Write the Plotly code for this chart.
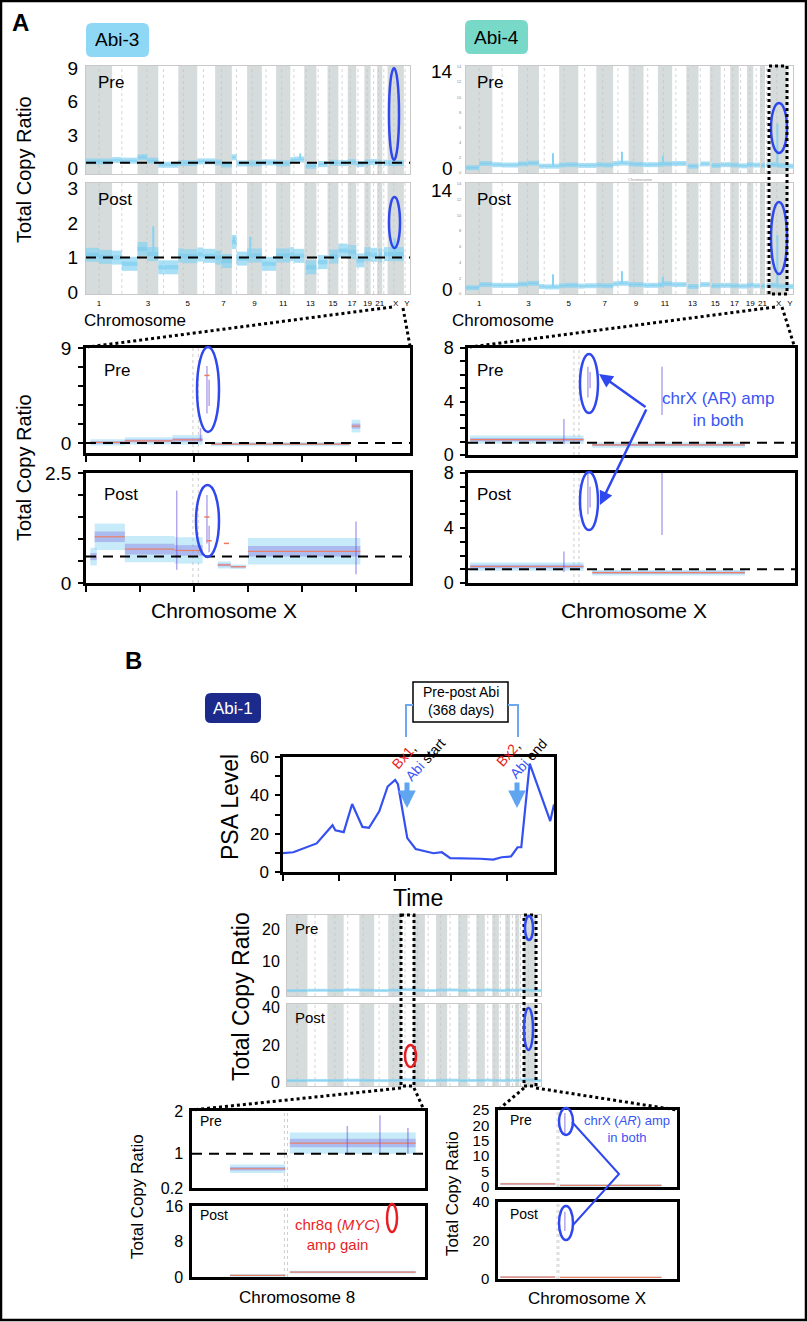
import plotly.graph_objects as go

W, H = 807, 1322
FONT = "Liberation Sans"

# ---------------- genome layout (hg19, Mb) ----------------
CHROMS = [str(i) for i in range(1, 23)] + ["X", "Y"]
CHROM_LEN = [249, 243, 198, 191, 181, 171, 159, 146, 141, 136, 135, 134,
             115, 107, 103, 90, 81, 78, 59, 63, 48, 51, 155, 59]
CENTROMERE = [125, 93, 91, 50, 48, 60, 60, 45, 49, 40, 53, 35,
              17, 17, 19, 36, 24, 17, 26, 28, 13, 15, 60, 12]
GENOME_TICK_CHROMS = ["1", "3", "5", "7", "9", "11", "13", "15", "17", "19", "21", "X", "Y"]

# ---------------- Abi-3 genome-wide copy ratio (p arm / q arm) ----------------
ABI3_PRE_P = [0.63, 0.75, 1.0, 0.33, 0.48, 0.63, 0.54, 1.0, 0.45, 0.54, 0.45, 0.75,
              None, None, None, 0.48, 0.57, 0.39, 0.54, 0.57, None, None, 0.48, None]
ABI3_PRE_Q = [0.63, 0.7, 0.7, 0.33, 0.48, 0.63, 0.35, 0.45, 0.45, 0.54, 0.45, 0.8,
              0.24, 0.39, 0.51, 0.48, 0.57, 0.39, 0.54, 0.57, 0.51, 0.51, 0.48, None]
ABI3_PRE_SPIKE_CHR = ["12", "3"]
ABI3_PRE_SPIKE_POS = [95, 60]
ABI3_PRE_SPIKE_TOP = [1.35, 1.2]

ABI3_POST_P = [1.08, 1.0, 1.25, 0.72, 1.06, 1.09, 1.0, 1.45, 1.06, 0.82, 1.06, 1.1,
               None, None, None, 1.2, 1.16, 0.92, 1.1, 1.08, None, None, 1.1, None]
ABI3_POST_Q = [1.02, 0.82, 1.1, 0.72, 1.04, 1.05, 0.9, 0.97, 1.06, 0.82, 1.06, 1.05,
               0.72, 0.87, 1.03, 1.2, 1.16, 0.92, 1.1, 1.08, 1.06, 1.1, 1.1, None]
ABI3_POST_SPIKE_CHR = ["3", "9", "8", "X"]
ABI3_POST_SPIKE_POS = [150, 30, 20, 67]
ABI3_POST_SPIKE_TOP = [1.9, 1.6, 1.6, 1.55]

# ---------------- Abi-4 genome-wide copy ratio ----------------
ABI4_PRE_P = [0.7, 1.1, 1.2, 0.9, 1.05, 1.0, 1.1, 1.25, 1.2, 1.1, 1.15, 1.25,
              None, None, None, 1.1, 1.05, 0.95, 1.1, 1.05, None, None, 1.1, 0.9]
ABI4_PRE_Q = [1.25, 1.05, 1.3, 0.9, 1.1, 1.0, 1.05, 1.3, 1.15, 1.1, 1.2, 1.25,
              0.9, 1.2, 1.0, 1.1, 1.05, 0.95, 1.1, 1.05, 1.0, 1.1, 1.0, 0.9]
ABI4_POST_P = [0.8, 1.1, 1.25, 0.95, 1.05, 1.0, 1.1, 1.3, 1.2, 1.1, 1.15, 1.2,
               None, None, None, 1.1, 1.05, 1.0, 1.1, 1.05, None, None, 1.1, 0.95]
ABI4_POST_Q = [1.2, 1.1, 1.35, 0.9, 1.1, 1.05, 1.05, 1.35, 1.2, 1.1, 1.3, 1.2,
               0.95, 1.2, 1.05, 1.1, 1.05, 1.0, 1.15, 1.05, 1.0, 1.1, 1.0, 0.95]
ABI4_SPIKE_CHR = ["4", "8", "11", "X"]
ABI4_SPIKE_POS = [133, 83, 48, 66]
ABI4_PRE_SPIKE_TOP = [2.6, 2.8, 2.3, 6.5]
ABI4_POST_SPIKE_TOP = [2.5, 2.9, 2.2, 7.5]

# ---------------- Abi-1 genome-wide copy ratio (per chromosome) ----------------
ABI1_PRE = [0.7, 0.8, 0.75, 0.9, 0.8, 0.7, 0.85, 1.0, 0.8, 0.7, 0.85, 0.9,
            0.7, 0.8, 0.8, 0.9, 0.8, 0.7, 0.9, 0.8, 0.8, 0.9, 0.8, 0.7]
ABI1_POST = [0.9, 1.0, 0.95, 1.1, 1.0, 0.9, 1.0, 1.3, 1.0, 0.9, 1.05, 1.1,
             0.9, 1.0, 1.0, 1.1, 1.0, 0.9, 1.1, 1.0, 1.0, 1.1, 1.2, 0.9]

# ---------------- chrX zoom, Abi-3 (position units 0-150) ----------------
A3X_PRE_START = [2, 18, 40, 58, 123]
A3X_PRE_END = [18, 40, 54, 122, 127]
A3X_PRE_MEAN = [0.05, 0.2, 0.3, -0.1, 1.6]
A3X_PRE_SPREAD = [0.3, 0.35, 0.45, 0.2, 0.6]
A3X_PRE_SPIKE_X = [56, 57, 53]
A3X_PRE_SPIKE_LO = [2.8, 3.5, 0.2]
A3X_PRE_SPIKE_HI = [7.3, 6.0, 1.4]
A3X_PRE_CALL_X = [56]
A3X_PRE_CALL_Y = [6.4]

A3X_POST_START = [2, 4, 18, 41, 61, 67, 75]
A3X_POST_END = [5, 18, 41, 54, 67, 74, 127]
A3X_POST_MEAN = [0.6, 1.05, 0.77, 0.74, 0.41, 0.37, 0.72]
A3X_POST_SPREAD = [0.2, 0.3, 0.3, 0.3, 0.08, 0.05, 0.3]
A3X_POST_SPIKE_X = [42, 56, 57, 125]
A3X_POST_SPIKE_LO = [0.3, 0.9, 0.7, 0.2]
A3X_POST_SPIKE_HI = [2.1, 2.0, 1.3, 1.4]
A3X_POST_CALL_X = [56, 57, 65]
A3X_POST_CALL_Y = [1.5, 0.96, 0.9]

# ---------------- chrX zoom, Abi-4 ----------------
A4X_START = [1, 57]
A4X_END = [53, 127]
A4X_PRE_MEAN = [1.15, 0.75]
A4X_POST_MEAN = [1.2, 0.75]
A4X_SPREAD = [0.3, 0.2]
A4X_SPIKE_X = [44, 55, 56, 89]
A4X_PRE_SPIKE_LO = [0.8, 4.3, 5.0, 3.0]
A4X_PRE_SPIKE_HI = [2.7, 6.6, 6.2, 6.6]
A4X_POST_SPIKE_LO = [0.8, 5.0, 5.5, 3.5]
A4X_POST_SPIKE_HI = [2.3, 8.0, 7.0, 8.0]

# ---------------- Abi-1 chr8 and chrX zoom ----------------
A1_8_START = [24.5, 63]
A1_8_END = [60, 144]
A1_8_PRE_MEAN = [0.65, 1.25]
A1_8_PRE_SPREAD = [0.1, 0.25]
A1_8_PRE_SPIKE_X = [121, 139, 100]
A1_8_PRE_SPIKE_LO = [1.0, 1.0, 1.0]
A1_8_PRE_SPIKE_HI = [1.9, 1.6, 1.65]
A1_8_POST_MEAN = [0.35, 1.1]
A1_8_POST_SPREAD = [0.3, 0.3]

A1_X_START = [2, 52]
A1_X_END = [48, 137]
A1_X_PRE_MEAN = [1.0, 0.5]
A1_X_POST_MEAN = [1.0, 0.8]
A1_X_SPREAD = [0.4, 0.4]
A1_X_SPIKE_X = [56]
A1_X_PRE_SPIKE_LO = [17]
A1_X_PRE_SPIKE_HI = [24]
A1_X_POST_SPIKE_LO = [25]
A1_X_POST_SPIKE_HI = [35]

# ---------------- PSA time course ----------------
PSA_T = [0, 11, 36, 53, 56, 65, 74, 85, 92, 103, 112, 120, 123, 133, 142,
         161, 170, 179, 211, 225, 234, 244, 251, 255, 264, 286, 290]
PSA_LEVEL = [9.8, 10.3, 14.9, 24.4, 21.8, 20.8, 35.5, 23.5, 23.0, 31.7, 44.6, 48.0,
             45.8, 17.7, 12.0, 9.8, 10.3, 7.2, 6.9, 6.5, 7.7, 8.1, 12.9, 12.9,
             56.6, 26.6, 35.2]

# colours
LBLUE = "#86d3f3"
LBLUE_CORE = "#6cc6ee"
BAND = "#d6dbdb"
PURPLE = "#6b4fdc"
ORANGE = "#f27a5a"
EBLUE = "#2f47ee"
TBLUE = "#3a55f5"
RED = "#e81e25"

# chromosome offsets
CH_START = []
acc = 0
for L in CHROM_LEN:
    CH_START.append(acc)
    acc += L
GENOME_END = acc


def X(p):
    return p / W


def Y(p):
    return 1 - p / H


fig = go.Figure()


def axes(n, box, xr, yr, frame=None, fw=1, yt=None, ytext=None, yfont=16,
         ytick=0, xt=None, xtext=None, xfont=8, xtick=0, ycolor="black"):
    x0, y0, x1, y1 = box
    k = "" if n == 1 else str(n)
    xa = dict(domain=[X(x0), X(x1)], range=xr, anchor="y" + k, showgrid=False,
              zeroline=False, fixedrange=True, automargin=False)
    ya = dict(domain=[Y(y1), Y(y0)], range=yr, anchor="x" + k, showgrid=False,
              zeroline=False, fixedrange=True, automargin=False)
    for a in (xa, ya):
        if frame:
            a.update(showline=True, linecolor=frame, linewidth=fw, mirror=True)
        else:
            a.update(showline=False)
    if yt is not None:
        ya.update(tickmode="array", tickvals=yt, ticktext=ytext or [str(v) for v in yt],
                  tickfont=dict(family=FONT, size=yfont, color=ycolor),
                  ticks="outside" if ytick else "", ticklen=ytick, tickwidth=1.5,
                  tickcolor="black", ticklabelstandoff=3)
    else:
        ya.update(showticklabels=False)
    if xt is not None:
        xa.update(tickmode="array", tickvals=xt, ticktext=xtext or [""] * len(xt),
                  tickfont=dict(family=FONT, size=xfont, color="black"),
                  ticks="outside" if xtick else "", ticklen=xtick, tickwidth=1.5,
                  tickcolor="black", ticklabelstandoff=1)
    else:
        xa.update(showticklabels=False)
    fig.update_layout({"xaxis" + k: xa, "yaxis" + k: ya})
    return "x" + k, "y" + k


def lines(xr, yr, xs, ys, color, width, opacity=1.0, dash=None):
    fig.add_trace(go.Scatter(x=xs, y=ys, mode="lines", xaxis=xr, yaxis=yr,
                             line=dict(color=color, width=width, dash=dash),
                             opacity=opacity, hoverinfo="skip", showlegend=False))


def px_per_unit(box, yr):
    return (box[3] - box[1]) / (yr[1] - yr[0])


def genome_panel(n, box, yr, p_vals, q_vals, band_px, spikes=None, yt=None, ytext=None,
                 yfont=17, xlabels=False, frame="#c8c8c8", ycolor="black"):
    xt = xtext = None
    if xlabels:
        xt = [CH_START[CHROMS.index(c)] + CHROM_LEN[CHROMS.index(c)] / 2 for c in GENOME_TICK_CHROMS]
        xtext = GENOME_TICK_CHROMS
    xr, yr_id = axes(n, box, [0, GENOME_END], yr, frame=frame, fw=1, yt=yt, ytext=ytext,
                     yfont=yfont, xt=xt, xtext=xtext, xfont=8, ycolor=ycolor)
    for i in range(len(CHROMS)):
        if i % 2 == 0:
            fig.add_shape(type="rect", xref=xr, yref=yr_id + " domain",
                          x0=CH_START[i], x1=CH_START[i] + CHROM_LEN[i], y0=0, y1=1,
                          fillcolor=BAND, line_width=0, layer="below")
        fig.add_shape(type="line", xref=xr, yref=yr_id + " domain",
                      x0=CH_START[i] + CENTROMERE[i], x1=CH_START[i] + CENTROMERE[i],
                      y0=0, y1=1, line=dict(color="#c4c4c4", width=0.7, dash="dot"),
                      layer="below")
    xs, ys = [], []
    for i in range(len(CHROMS)):
        s = CH_START[i]
        c = s + CENTROMERE[i]
        e = s + CHROM_LEN[i]
        if p_vals[i] is not None:
            xs += [s, c, None]
            ys += [p_vals[i], p_vals[i], None]
        if q_vals[i] is not None:
            xs += [c, e, None]
            ys += [q_vals[i], q_vals[i], None]
    lines(xr, yr_id, xs, ys, LBLUE, band_px, opacity=0.7)
    lines(xr, yr_id, xs, ys, LBLUE_CORE, max(1.0, band_px * 0.3), opacity=0.45)
    if spikes:
        chrs, pos, tops = spikes
        sx, sy = [], []
        for c, p, t in zip(chrs, pos, tops):
            i = CHROMS.index(c)
            base = p_vals[i] if (p < CENTROMERE[i] and p_vals[i] is not None) else q_vals[i]
            sx += [CH_START[i] + p, CH_START[i] + p, None]
            sy += [base, t, None]
        lines(xr, yr_id, sx, sy, LBLUE, 2)
    return xr, yr_id


def zoom_panel(n, box, xr_range, yr, starts, ends, means, spreads, yt, ytext=None,
               yfont=17, ytick=5, xt=None, xtick=0, spike=None, calls=None,
               ref=None, centro=(49.5, 52.0)):
    xr, yr_id = axes(n, box, xr_range, yr, frame="black", fw=2.5, yt=yt, ytext=ytext,
                     yfont=yfont, ytick=ytick, xt=xt, xtick=xtick)
    for c in centro:
        fig.add_shape(type="line", xref=xr, yref=yr_id + " domain", x0=c, x1=c, y0=0, y1=1,
                      line=dict(color="#c0c0c0", width=0.8, dash="dot"), layer="below")
    ppu = px_per_unit(box, yr)
    for s, e, m, sp in zip(starts, ends, means, spreads):
        w = max(1.5, 2 * sp * ppu)
        lines(xr, yr_id, [s, e], [m, m], LBLUE, w, opacity=0.45)
        lines(xr, yr_id, [s, e], [m, m], PURPLE, max(1.0, w * 0.4), opacity=0.3)
        lines(xr, yr_id, [s, e], [m, m], ORANGE, 1.2, opacity=0.9)
    if spike:
        sx, sy = [], []
        for x, lo, hi in zip(*spike):
            sx += [x, x, None]
            sy += [lo, hi, None]
        lines(xr, yr_id, sx, sy, PURPLE, 1.5, opacity=0.5)
    if calls:
        cx, cy = [], []
        for x, y in zip(*calls):
            cx += [x - 1.2, x + 1.2, None]
            cy += [y, y, None]
        lines(xr, yr_id, cx, cy, ORANGE, 1.5)
    if ref is not None:
        lines(xr, yr_id, xr_range, [ref, ref], "black", 2, dash="10px,7px")
    return xr, yr_id


def text(x, y, s, size, color="black", xanchor="center", angle=0, align="center"):
    fig.add_annotation(x=X(x), y=Y(y), xref="paper", yref="paper", text=s, showarrow=False,
                       xanchor=xanchor, yanchor="middle", textangle=angle, align=align,
                       font=dict(family=FONT, size=size, color=color))


def pline(x0, y0, x1, y1, color="black", width=3, dash="dot"):
    fig.add_shape(type="line", xref="paper", yref="paper", x0=X(x0), y0=Y(y0),
                  x1=X(x1), y1=Y(y1), line=dict(color=color, width=width, dash=dash))


def prect(x0, y0, x1, y1, color="black", width=3, dash="dot", fill="rgba(0,0,0,0)"):
    fig.add_shape(type="rect", xref="paper", yref="paper", x0=X(x0), y0=Y(y0),
                  x1=X(x1), y1=Y(y1), fillcolor=fill,
                  line=dict(color=color, width=width, dash=dash))


def ellipse(x0, y0, x1, y1, color=EBLUE, width=2.5):
    fig.add_shape(type="circle", xref="paper", yref="paper", x0=X(x0), y0=Y(y0),
                  x1=X(x1), y1=Y(y1), line=dict(color=color, width=width))


def badge(x0, y0, x1, y1, fill, label, tcolor, size):
    r = 6
    p = (f"M {X(x0 + r)},{Y(y0)} L {X(x1 - r)},{Y(y0)} Q {X(x1)},{Y(y0)} {X(x1)},{Y(y0 + r)} "
         f"L {X(x1)},{Y(y1 - r)} Q {X(x1)},{Y(y1)} {X(x1 - r)},{Y(y1)} "
         f"L {X(x0 + r)},{Y(y1)} Q {X(x0)},{Y(y1)} {X(x0)},{Y(y1 - r)} "
         f"L {X(x0)},{Y(y0 + r)} Q {X(x0)},{Y(y0)} {X(x0 + r)},{Y(y0)} Z")
    fig.add_shape(type="path", xref="paper", yref="paper", path=p, fillcolor=fill, line_width=0)
    text((x0 + x1) / 2, (y0 + y1) / 2, label, size, color=tcolor)


def arrow(hx, hy, tx, ty, color, width, head=2, size=1.0):
    fig.add_annotation(x=X(hx), y=Y(hy), xref="paper", yref="paper", text="",
                       showarrow=True, ax=tx - hx, ay=ty - hy, arrowhead=head,
                       arrowsize=size, arrowwidth=width, arrowcolor=color, standoff=0)


# =================== Panel A ===================
text(20, 22, "<b>A</b>", 24)
badge(86, 23, 149, 57, "#8fd8f5", "Abi-3", "black", 19)
badge(465, 20, 528, 54, "#79d9c9", "Abi-4", "black", 19)

# Abi-3 genome-wide
b1 = (86, 66, 410, 174)
x1r, y1r = genome_panel(1, b1, [-0.5, 9.2], ABI3_PRE_P, ABI3_PRE_Q, 6,
                        spikes=(ABI3_PRE_SPIKE_CHR, ABI3_PRE_SPIKE_POS, ABI3_PRE_SPIKE_TOP),
                        yt=[0, 3, 6, 9], yfont=19)
lines(x1r, y1r, [0, GENOME_END], [0.5, 0.5], "black", 2, dash="10px,7px")
b2 = (86, 183, 410, 294)
x2r, y2r = genome_panel(2, b2, [-0.05, 3.15], ABI3_POST_P, ABI3_POST_Q, 14,
                        spikes=(ABI3_POST_SPIKE_CHR, ABI3_POST_SPIKE_POS, ABI3_POST_SPIKE_TOP),
                        yt=[0, 1, 2, 3], yfont=19, xlabels=True)
lines(x2r, y2r, [0, GENOME_END], [1.0, 1.0], "black", 2, dash="10px,7px")

# Abi-4 genome-wide (embedded plot keeps its own tiny axis labels)
tiny = list(range(0, 15, 2))
b3 = (466, 66, 793, 173)
genome_panel(3, b3, [0, 14.1], ABI4_PRE_P, ABI4_PRE_Q, 5,
             spikes=(ABI4_SPIKE_CHR, ABI4_SPIKE_POS, ABI4_PRE_SPIKE_TOP),
             yt=tiny, yfont=4, ycolor="#888888")
b4 = (466, 183, 793, 294)
genome_panel(4, b4, [0, 14.1], ABI4_POST_P, ABI4_POST_Q, 5,
             spikes=(ABI4_SPIKE_CHR, ABI4_SPIKE_POS, ABI4_POST_SPIKE_TOP),
             yt=tiny, yfont=4, ycolor="#888888", xlabels=True)
text(640, 179, "Chromosome", 4, color="#999999")
text(455, 72, "14", 19, xanchor="right")
text(455, 168, "0", 19, xanchor="right")
text(455, 191, "14", 19, xanchor="right")
text(455, 289, "0", 19, xanchor="right")

text(24, 170, "Total Copy Ratio", 20, angle=-90)
text(82, 320, "Chromosome", 17, xanchor="left")
text(450, 320, "Chromosome", 17, xanchor="left")
text(96, 82, "Pre", 17, xanchor="left")
text(96, 199, "Post", 17, xanchor="left")
text(475, 82, "Pre", 17, xanchor="left")
text(475, 199, "Post", 17, xanchor="left")

ellipse(389, 68, 399, 160)
ellipse(389, 197, 400, 248)
ellipse(771, 103, 787, 153)
ellipse(771, 202, 787, 274)
prect(769, 66, 787, 294)

# zoom connectors A
pline(392, 307, 88, 347)
pline(403, 308, 410, 346)
pline(775, 307, 470, 347)
pline(782, 307, 794, 345)

# Abi-3 chrX zoom
b5 = (86, 348, 410, 453)
zoom_panel(5, b5, [0, 150], [-0.95, 9], A3X_PRE_START, A3X_PRE_END, A3X_PRE_MEAN,
           A3X_PRE_SPREAD, yt=[0, 1.8, 3.6, 5.4, 7.2, 9], ytext=["0", "", "", "", "", "9"],
           yfont=19, xt=[0, 25, 50, 75, 100, 125], xtick=6,
           spike=(A3X_PRE_SPIKE_X, A3X_PRE_SPIKE_LO, A3X_PRE_SPIKE_HI),
           calls=(A3X_PRE_CALL_X, A3X_PRE_CALL_Y), ref=0)
b6 = (86, 473, 410, 583)
zoom_panel(6, b6, [0, 150], [0, 2.5], A3X_POST_START, A3X_POST_END, A3X_POST_MEAN,
           A3X_POST_SPREAD, yt=[0, 0.5, 1, 1.5, 2, 2.5], ytext=["0", "", "", "", "", "2.5"],
           yfont=19, xt=[0, 25, 50, 75, 100, 125], xtick=6,
           spike=(A3X_POST_SPIKE_X, A3X_POST_SPIKE_LO, A3X_POST_SPIKE_HI),
           calls=(A3X_POST_CALL_X, A3X_POST_CALL_Y), ref=0.6)

# Abi-4 chrX zoom
b7 = (468, 348, 795, 455)
zoom_panel(7, b7, [0, 150], [0, 8], A4X_START, A4X_END, A4X_PRE_MEAN, A4X_SPREAD,
           yt=list(range(9)), ytext=["0", "", "", "", "4", "", "", "", "8"], yfont=18,
           spike=(A4X_SPIKE_X, A4X_PRE_SPIKE_LO, A4X_PRE_SPIKE_HI), ref=0.92,
           centro=(48.6, 50.9))
b8 = (468, 473, 795, 583)
zoom_panel(8, b8, [0, 150], [0, 8], A4X_START, A4X_END, A4X_POST_MEAN, A4X_SPREAD,
           yt=list(range(9)), ytext=["0", "", "", "", "4", "", "", "", "8"], yfont=18,
           spike=(A4X_SPIKE_X, A4X_POST_SPIKE_LO, A4X_POST_SPIKE_HI), ref=1.0,
           centro=(48.6, 50.9))

text(24, 468, "Total Copy Ratio", 20, angle=-90)
text(102, 370, "Pre", 17, xanchor="left")
text(102, 494, "Post", 17, xanchor="left")
text(475, 370, "Pre", 17, xanchor="left")
text(475, 494, "Post", 17, xanchor="left")
text(224, 610, "Chromosome X", 21)
text(634, 610, "Chromosome X", 21)

ellipse(197, 347, 219, 432)
ellipse(196, 485, 219, 557)
ellipse(580, 354, 598, 413)
ellipse(580, 472, 598, 530)
text(718, 409, "chrX (AR) amp<br>in both", 17, color=TBLUE)
arrow(599, 374, 647, 408, EBLUE, 2.5, head=2, size=1.1)
arrow(600, 505, 647, 408, EBLUE, 2.5, head=2, size=1.1)

# =================== Panel B ===================
text(133, 660, "<b>B</b>", 24)
badge(205, 693, 261, 723, "#1c2a8c", "Abi-1", "white", 17)

prect(413, 682, 508, 722, width=1.5, dash="solid", fill="white")
text(461, 701, "Pre-post Abi<br>(368 days)", 14)
fig.add_shape(type="path", xref="paper", yref="paper", line=dict(color="#6fa8f0", width=2),
              path=f"M {X(413)},{Y(705)} L {X(406)},{Y(705)} L {X(406)},{Y(737)}")
fig.add_shape(type="path", xref="paper", yref="paper", line=dict(color="#6fa8f0", width=2),
              path=f"M {X(508)},{Y(705)} L {X(518)},{Y(705)} L {X(518)},{Y(737)}")

b9 = (283, 757, 554, 872)
x9, y9 = axes(9, b9, [0, 290], [0, 60], frame="black", fw=2.5,
              yt=list(range(0, 61, 10)), ytext=["0", "", "20", "", "40", "", "60"],
              yfont=17, ytick=5, xt=[0, 60, 120, 180, 240], xtick=6)
lines(x9, y9, PSA_T, PSA_LEVEL, "#3450f0", 2.2)
text(230, 807, "PSA Level", 23, angle=-90)
text(418, 898, "Time", 23)

text(418, 754, f"<span style='color:{RED}'>Bx1</span>,<br><span style='color:{TBLUE}'>Abi</span> start",
     14, angle=-48, align="left")
text(521, 753, f"<span style='color:{RED}'>Bx2</span>,<br><span style='color:{TBLUE}'>Abi</span> end",
     14, angle=-48, align="left")
arrow(407, 808, 407, 781, "#5fa5f0", 5, head=2, size=0.7)
arrow(517, 808, 517, 781, "#5fa5f0", 5, head=2, size=0.7)

# Abi-1 genome-wide
b10 = (287, 915, 541, 996)
genome_panel(10, b10, [-1, 24.5], ABI1_PRE, ABI1_PRE, 3, yt=[0, 10, 20], yfont=16)
b11 = (287, 1004, 541, 1086)
genome_panel(11, b11, [-2, 42], ABI1_POST, ABI1_POST, 3, yt=[0, 20, 40], yfont=16)
text(241, 997, "Total Copy Ratio", 23, angle=-90)
text(293, 928, "Pre", 15, xanchor="left")
text(293, 1017, "Post", 15, xanchor="left")
prect(401, 915, 414, 1086)
prect(524, 915, 536, 1086)
ellipse(525, 916, 533, 940)
ellipse(524, 1008, 533, 1050)
ellipse(405, 1045, 416, 1067, color=RED)

# zoom connectors B
pline(401, 1088, 192, 1110)
pline(414, 1088, 424, 1110)
pline(524, 1088, 498, 1110)
pline(536, 1088, 677, 1110)

# chr8 zoom
b12 = (192, 1111, 425, 1188)
zoom_panel(12, b12, [0, 150], [0.2, 2], A1_8_START, A1_8_END, A1_8_PRE_MEAN, A1_8_PRE_SPREAD,
           yt=[0.2, 1, 2], ytext=["0.2", "1", "2"], yfont=16, ytick=0,
           spike=(A1_8_PRE_SPIKE_X, A1_8_PRE_SPIKE_LO, A1_8_PRE_SPIKE_HI), ref=1,
           centro=(59.5, 61.5))
b13 = (192, 1206, 425, 1277)
zoom_panel(13, b13, [0, 150], [0, 16], A1_8_START, A1_8_END, A1_8_POST_MEAN, A1_8_POST_SPREAD,
           yt=[0, 8, 16], yfont=16, ytick=0, centro=(59.5, 61.5))
text(137, 1197, "Total Copy Ratio", 17, angle=-90)
text(198, 1121, "Pre", 14, xanchor="left")
text(198, 1215, "Post", 14, xanchor="left")
text(297, 1297, "Chromosome 8", 17)
text(337, 1234, "chr8q (<i>MYC</i>)<br>amp gain", 15, color=RED)
ellipse(387, 1204, 397, 1232, color=RED, width=2.5)

# chrX zoom (Abi-1)
b14 = (498, 1110, 677, 1187)
zoom_panel(14, b14, [0, 150], [0, 25], A1_X_START, A1_X_END, A1_X_PRE_MEAN, A1_X_SPREAD,
           yt=[0, 5, 10, 15, 20, 25], yfont=15, ytick=0,
           spike=(A1_X_SPIKE_X, A1_X_PRE_SPIKE_LO, A1_X_PRE_SPIKE_HI), centro=(49.5, 51))
b15 = (498, 1202, 677, 1279)
zoom_panel(15, b15, [0, 150], [0, 40], A1_X_START, A1_X_END, A1_X_POST_MEAN, A1_X_SPREAD,
           yt=[0, 20, 40], yfont=15, ytick=0,
           spike=(A1_X_SPIKE_X, A1_X_POST_SPIKE_LO, A1_X_POST_SPIKE_HI), centro=(49.5, 51))
text(452, 1194, "Total Copy Ratio", 17, angle=-90)
text(508, 1120, "Pre", 14, xanchor="left")
text(508, 1214, "Post", 14, xanchor="left")
text(587, 1298, "Chromosome X", 17)
ellipse(559, 1108, 573, 1135)
ellipse(559, 1206, 573, 1240)
fig.add_shape(type="path", xref="paper", yref="paper", line=dict(color=EBLUE, width=2),
              path=f"M {X(572)},{Y(1122)} L {X(619)},{Y(1174)} L {X(573)},{Y(1225)}")
text(627, 1129, "chrX (<i>AR</i>) amp<br>in both", 13, color=TBLUE)

# outer border
prect(1, 1, 806, 1320, width=2.5, dash="solid")

fig.update_layout(width=W, height=H,
                  margin=dict(l=0, r=0, t=0, b=0, pad=0, autoexpand=False),
                  paper_bgcolor="white", plot_bgcolor="white", showlegend=False,
                  font=dict(family=FONT))

# pin the graph to the page corner so the 807x1322 window shows it unshifted
PIN = ("document.body.style.margin='0';document.body.style.overflow='hidden';"
       "var g=document.getElementById('{plot_id}');g.style.position='absolute';"
       "g.style.left='0px';g.style.top='0px';")
fig.write_html("out.html", post_script=PIN, config={"displayModeBar": False})
